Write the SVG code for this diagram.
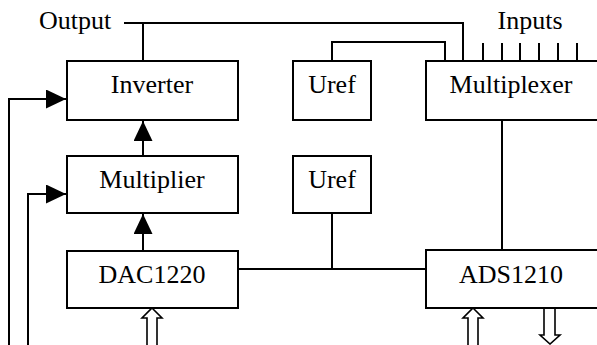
<svg xmlns="http://www.w3.org/2000/svg" width="597" height="345" viewBox="0 0 597 345">
<style>
.box{fill:#fff;stroke:#000;stroke-width:2}
.t{font-family:"Liberation Serif","Times New Roman",serif;font-size:26px;fill:#000;text-anchor:middle}
.w{fill:none;stroke:#000;stroke-width:2}
.hol{fill:#fff;stroke:#000;stroke-width:1.6;stroke-linejoin:miter}
</style>
<defs>
<marker id="ah" markerWidth="20" markerHeight="19" refX="20" refY="9.5" orient="auto" markerUnits="userSpaceOnUse">
<path d="M0,0 L20,9.5 L0,19 Z" fill="#000"/>
</marker>
</defs>
<rect width="597" height="345" fill="#fff"/>
<g id="connectors">
<path class="w" d="M124,23 H463 V61"/>
<path class="w" d="M143,23 V61"/>
<path class="w" d="M332,61 V42 H445 V61"/>
<path class="w" d="M483,43 V61 M502,43 V61 M520,43 V61 M539,43 V61 M558,43 V61 M577,43 V61"/>
<path class="w" d="M502,120 V250"/>
<path class="w" d="M143,156 V121" marker-end="url(#ah)"/>
<path class="w" d="M143,251 V214" marker-end="url(#ah)"/>
<path class="w" d="M9,345 V99 H66" marker-end="url(#ah)"/>
<path class="w" d="M28,345 V194 H66" marker-end="url(#ah)"/>
<path class="w" d="M238,269 H426"/>
<path class="w" d="M332,213 V269"/>
<path class="hol" d="M152,308 L162,318 H157 V346 H147 V318 H142 Z"/>
<path class="hol" d="M473,308 L483,318 H478 V346 H468 V318 H463 Z"/>
<path class="hol" d="M544,308 H555 V335 H560 L550,344 L540,335 H544 Z"/>
</g>
<g id="output-label"><text class="t" x="75" y="29">Output</text></g>
<g id="inputs-label"><text class="t" x="530" y="29">Inputs</text></g>
<g id="inverter"><rect class="box" x="67" y="61" width="171" height="59"/><text class="t" x="152" y="93">Inverter</text></g>
<g id="multiplier"><rect class="box" x="67" y="156" width="171" height="57"/><text class="t" x="152" y="188">Multiplier</text></g>
<g id="dac1220"><rect class="box" x="67" y="251" width="171" height="57"/><text class="t" x="152" y="283">DAC1220</text></g>
<g id="uref1"><rect class="box" x="293" y="61" width="78" height="59"/><text class="t" x="332" y="93">Uref</text></g>
<g id="uref2"><rect class="box" x="293" y="156" width="78" height="57"/><text class="t" x="332" y="188">Uref</text></g>
<g id="multiplexer"><rect class="box" x="426" y="61" width="190" height="59"/><text class="t" x="511" y="93">Multiplexer</text></g>
<g id="ads1210"><rect class="box" x="426" y="250" width="190" height="58"/><text class="t" x="511" y="283">ADS1210</text></g>
</svg>
